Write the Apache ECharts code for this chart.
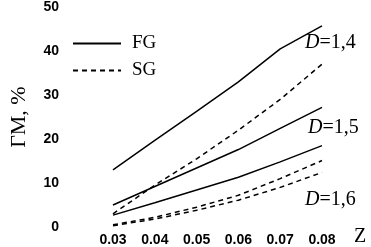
<!DOCTYPE html>
<html><head><meta charset="utf-8">
<script src="https://cdn.jsdelivr.net/npm/echarts@6/dist/echarts.min.js"></script>
<style>html,body{margin:0;padding:0;background:#fff}#c{width:371px;height:247px}</style>
</head><body><div id="c"></div>
<script>
var categories = ['0.03','0.04','0.05','0.06','0.07','0.08'];
var yTicks = [0,10,20,30,40,50];
var fg14 = [13, 19.7, 26.3, 33, 40.5, 45.7];
var fg15 = [5, 9.2, 13.4, 17.6, 22.4, 27.2];
var fg16 = [2.7, 5.5, 8.4, 11.3, 14.8, 18.5];
var sg14 = [3, 9.5, 15.5, 22, 29, 37];
var sg15 = [0.5, 2.2, 4.5, 7.2, 11, 15.1];
var sg16 = [0.3, 1.8, 3.8, 6.1, 9.0, 12.4];
var dLabels = ['D=1,4','D=1,5','D=1,6'];

var chart = echarts.init(document.getElementById('c'));
function s(name, data, dashed){
  return {type:'line', name:name, data:data, symbol:'none', showSymbol:false, smooth:false,
    lineStyle:{color:'#000', width:1.5, type: dashed ? [5,4] : 'solid'},
    itemStyle:{color:'#000'}, emphasis:{disabled:true}, animation:false};
}
function dText(t, x, y){
  var parts = t.split('=');
  return {type:'text', left:x, top:y, style:{
    text:'{i|'+parts[0]+'}{n|='+parts[1]+'}',
    rich:{i:{fontFamily:'Liberation Serif',fontStyle:'italic',fontSize:20,fill:'#000'},
          n:{fontFamily:'Liberation Serif',fontSize:20,fill:'#000'}}}};
}
chart.setOption({
  animation:false,
  grid:{left:92,right:49,top:5,bottom:20,containLabel:false},
  xAxis:{type:'category',data:categories,boundaryGap:false,
    axisLine:{show:false},axisTick:{show:false},splitLine:{show:false},
    axisLabel:{margin:6,color:'#000',fontFamily:'Liberation Sans',fontWeight:'bold',fontSize:14}},
  yAxis:{type:'value',min:yTicks[0],max:yTicks[yTicks.length-1],interval:10,
    name:'ГМ, %',nameLocation:'middle',nameRotate:90,nameGap:83,
    nameTextStyle:{fontFamily:'Liberation Serif',fontSize:22,color:'#000'},
    axisLine:{show:false},axisTick:{show:false},splitLine:{show:false},
    axisLabel:{margin:54,color:'#000',fontFamily:'Liberation Sans',fontWeight:'bold',fontSize:14}},
  legend:{orient:'vertical',left:67,top:29,itemWidth:48,itemHeight:14,itemGap:8,
    data:['FG','SG'],
    itemStyle:{opacity:0},
    lineStyle:{width:2},
    textStyle:{fontFamily:'Liberation Serif',fontSize:19,color:'#000',padding:[0,0,0,6]}},
  graphic:[
    dText(dLabels[0],305,33),
    dText(dLabels[1],308,118),
    dText(dLabels[2],305,190),
    {type:'text',left:354,top:227,style:{text:'Z',fontFamily:'Liberation Serif',fontSize:20,fill:'#000'}}
  ],
  series:[s('FG',fg14,false),s('FG',fg15,false),s('FG',fg16,false),
          s('SG',sg14,true),s('SG',sg15,true),s('SG',sg16,true)]
});
</script></body></html>
